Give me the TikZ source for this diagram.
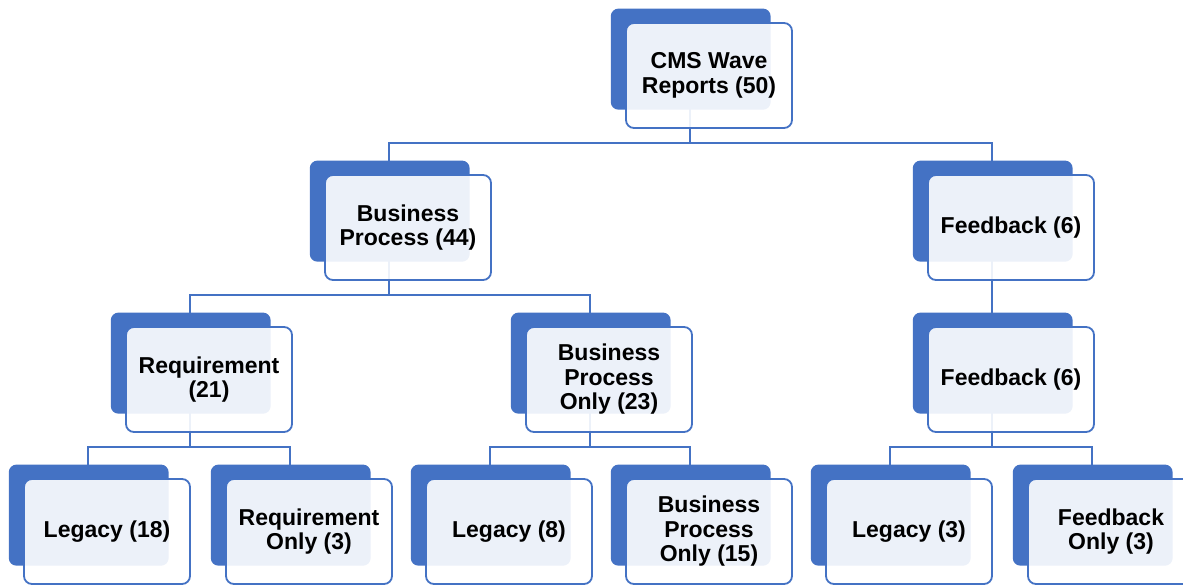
\documentclass[tikz,border=0pt]{standalone}
\usepackage{fontspec}
\setmainfont{Liberation Sans}
\usepackage{tikz}
\usetikzlibrary{positioning, shadows, backgrounds}

\definecolor{cardblue}{HTML}{4472C4}

\begin{document}
\begin{tikzpicture}[x=1pt, y=1pt, node distance=45.2pt,
	card/.style={rectangle, rounded corners=8pt, draw=cardblue, line width=1.8pt,
		fill=white, fill opacity=0.9, text opacity=1, minimum width=166pt, minimum height=105pt,
		align=center, font=\fontsize{23}{24.5}\selectfont\bfseries,
		general shadow={fill=cardblue, draw=none, opacity=1, fill opacity=1,
			shadow scale=0.963, shadow xshift=-19pt, shadow yshift=17pt}},
	link/.style={draw=cardblue, line width=2.2pt}]
	\useasboundingbox (0,-584) rectangle (1183,0);
	\clip (0,-584) rectangle (1183,0);

	\node[card] (top) at (709,-75.5) {CMS Wave\\Reports (50)};
	\node[card, below=of top, xshift=-301pt] (bp) {Business\\Process (44)};
	\node[card, below=of top, xshift=302pt] (fb) {Feedback (6)};
	\node[card, below=of bp, xshift=-199pt] (req) {Requirement\\(21)};
	\node[card, below=of bp, xshift=201pt] (bpo) {Business\\Process\\Only (23)};
	\node[card, below=of fb] (fb2) {Feedback (6)};
	\node[card, below=of req, xshift=-102pt] (leg18) {Legacy (18)};
	\node[card, below=of req, xshift=100pt] (req3) {Requirement\\Only (3)};
	\node[card, below=of bpo, xshift=-100pt] (leg8) {Legacy (8)};
	\node[card, below=of bpo, xshift=100pt] (bpo15) {Business\\Process\\Only (15)};
	\node[card, below=of fb2, xshift=-102pt] (leg3) {Legacy (3)};
	\node[card, below=of fb2, xshift=100pt] (fbo3) {Feedback\\Only (3)};

	\begin{scope}[on background layer]
		\draw[link] ([xshift=-19pt]top.center) -- ++(0,-67.5) -| ([xshift=-19pt]bp.center);
		\draw[link] ([xshift=-19pt]top.center) -- ++(0,-67.5) -| ([xshift=-19pt]fb.center);
		\draw[link] ([xshift=-19pt]bp.center) -- ++(0,-67.5) -| ([xshift=-19pt]req.center);
		\draw[link] ([xshift=-19pt]bp.center) -- ++(0,-67.5) -| ([xshift=-19pt]bpo.center);
		\draw[link] ([xshift=-19pt]fb.center) -- ([xshift=-19pt]fb2.center);
		\draw[link] ([xshift=-19pt]req.center) -- ++(0,-67.5) -| ([xshift=-19pt]leg18.center);
		\draw[link] ([xshift=-19pt]req.center) -- ++(0,-67.5) -| ([xshift=-19pt]req3.center);
		\draw[link] ([xshift=-19pt]bpo.center) -- ++(0,-67.5) -| ([xshift=-19pt]leg8.center);
		\draw[link] ([xshift=-19pt]bpo.center) -- ++(0,-67.5) -| ([xshift=-19pt]bpo15.center);
		\draw[link] ([xshift=-19pt]fb2.center) -- ++(0,-67.5) -| ([xshift=-19pt]leg3.center);
		\draw[link] ([xshift=-19pt]fb2.center) -- ++(0,-67.5) -| ([xshift=-19pt]fbo3.center);
	\end{scope}
\end{tikzpicture}
\end{document}
